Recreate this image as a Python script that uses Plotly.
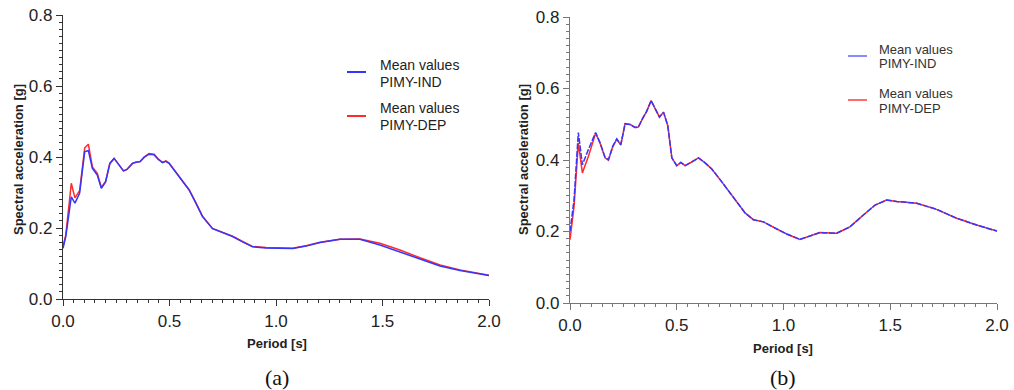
import plotly.graph_objects as go

# ---- (a) mean spectra ----
period_a = [0.0, 0.013, 0.039, 0.056, 0.078, 0.102, 0.119, 0.138, 0.161, 0.18, 0.2, 0.22,
            0.24, 0.263, 0.284, 0.3, 0.326, 0.342, 0.362, 0.381, 0.404, 0.428, 0.448, 0.467,
            0.483, 0.498, 0.522, 0.561, 0.592, 0.624, 0.655, 0.702, 0.749, 0.796, 0.843, 0.89,
            0.953, 1.016, 1.078, 1.141, 1.207, 1.30, 1.394, 1.488, 1.582, 1.676, 1.77, 1.864,
            1.958, 2.0]
ind_a = [0.143, 0.176, 0.288, 0.270, 0.298, 0.415, 0.418, 0.368, 0.349, 0.312, 0.330, 0.382,
         0.396, 0.377, 0.361, 0.365, 0.382, 0.385, 0.387, 0.399, 0.408, 0.406, 0.393, 0.384,
         0.388, 0.382, 0.363, 0.335, 0.307, 0.270, 0.232, 0.198, 0.188, 0.176, 0.161, 0.147,
         0.144, 0.144, 0.142, 0.149, 0.159, 0.168, 0.168, 0.152, 0.133, 0.112, 0.093, 0.080,
         0.070, 0.066]
dep_a = [0.148, 0.180, 0.326, 0.285, 0.305, 0.426, 0.436, 0.372, 0.354, 0.314, 0.331, 0.382,
         0.396, 0.377, 0.361, 0.365, 0.382, 0.385, 0.387, 0.400, 0.410, 0.408, 0.394, 0.385,
         0.389, 0.383, 0.364, 0.336, 0.308, 0.271, 0.233, 0.199, 0.189, 0.177, 0.162, 0.148,
         0.145, 0.145, 0.143, 0.150, 0.160, 0.168, 0.169, 0.157, 0.138, 0.116, 0.096, 0.082,
         0.071, 0.067]

# ---- (b) mean spectra ----
period_b = [0.0, 0.019, 0.039, 0.058, 0.086, 0.12, 0.141, 0.164, 0.18, 0.2, 0.219, 0.238,
            0.258, 0.281, 0.305, 0.32, 0.341, 0.359, 0.38, 0.398, 0.419, 0.438, 0.458, 0.477,
            0.5, 0.519, 0.539, 0.563, 0.602, 0.633, 0.664, 0.703, 0.75, 0.781, 0.82, 0.859,
            0.906, 0.952, 1.015, 1.077, 1.124, 1.171, 1.249, 1.311, 1.374, 1.429, 1.483, 1.53,
            1.624, 1.717, 1.811, 1.905, 2.0]
ind_b = [0.200, 0.289, 0.477, 0.387, 0.429, 0.477, 0.448, 0.408, 0.401, 0.438, 0.459, 0.443,
         0.501, 0.499, 0.491, 0.492, 0.517, 0.536, 0.566, 0.545, 0.520, 0.534, 0.496, 0.406,
         0.384, 0.393, 0.384, 0.392, 0.406, 0.392, 0.375, 0.345, 0.308, 0.282, 0.252, 0.233,
         0.227, 0.212, 0.193, 0.178, 0.187, 0.197, 0.195, 0.213, 0.246, 0.274, 0.288, 0.284,
         0.279, 0.262, 0.237, 0.218, 0.201]
dep_b = [0.177, 0.270, 0.448, 0.364, 0.410, 0.475, 0.447, 0.406, 0.399, 0.437, 0.458, 0.442,
         0.502, 0.500, 0.491, 0.492, 0.517, 0.536, 0.566, 0.545, 0.520, 0.534, 0.496, 0.406,
         0.384, 0.393, 0.384, 0.392, 0.406, 0.392, 0.375, 0.345, 0.308, 0.282, 0.252, 0.233,
         0.227, 0.212, 0.193, 0.178, 0.187, 0.197, 0.195, 0.213, 0.246, 0.274, 0.288, 0.284,
         0.279, 0.262, 0.237, 0.218, 0.201]

legend_labels = [["Mean values", "PIMY-IND"], ["Mean values", "PIMY-DEP"]]
x_title = "Period [s]"
y_title = "Spectral acceleration [g]"
panel_tags = ["(a)", "(b)"]

BLUE = "#3535ff"
RED = "#ff2b2b"
SANS = "Liberation Sans, Arial, sans-serif"
SERIF = "Liberation Serif, Times New Roman, serif"
W, H = 1014, 390


def px(x):
    return x / W


def py(y):
    return 1 - y / H


fig = go.Figure()
fig.add_trace(go.Scatter(x=period_a, y=dep_a, mode="lines", line=dict(color=RED, width=1.5),
                         xaxis="x", yaxis="y", showlegend=False))
fig.add_trace(go.Scatter(x=period_a, y=ind_a, mode="lines", line=dict(color=BLUE, width=1.5),
                         xaxis="x", yaxis="y", showlegend=False))
fig.add_trace(go.Scatter(x=period_b, y=dep_b, mode="lines", line=dict(color=RED, width=1.5),
                         xaxis="x2", yaxis="y2", showlegend=False))
fig.add_trace(go.Scatter(x=period_b, y=ind_b, mode="lines",
                         line=dict(color=BLUE, width=1.5, dash="6px,1.5px"),
                         xaxis="x2", yaxis="y2", showlegend=False))


def xax(domain, color, anchor):
    return dict(domain=domain, range=[0, 2], tick0=0, dtick=0.5, tickformat=".1f",
                ticks="outside", ticklen=6, tickwidth=1, tickcolor=color,
                showline=True, linecolor=color, linewidth=1.2, showgrid=False,
                zeroline=False, anchor=anchor, automargin=False,
                tickfont=dict(family=SANS, size=17, color="#222"),
                minor=dict(dtick=0.05, ticks="outside", ticklen=3, tickcolor=color,
                           showgrid=False))


def yax(domain, color, anchor):
    return dict(domain=domain, range=[0, 0.8], tick0=0, dtick=0.2, tickformat=".1f",
                ticks="outside", ticklen=6, tickwidth=1, tickcolor=color,
                showline=True, linecolor=color, linewidth=1.2, showgrid=False,
                zeroline=False, anchor=anchor, automargin=False,
                tickfont=dict(family=SANS, size=17, color="#222"),
                minor=dict(dtick=0.02, ticks="outside", ticklen=3, tickcolor=color,
                           showgrid=False))


fig.update_layout(
    width=W, height=H, autosize=False,
    margin=dict(l=0, r=0, t=0, b=0),
    paper_bgcolor="white", plot_bgcolor="white",
    xaxis=xax([px(63), px(489)], "#333", "y"),
    yaxis=yax([py(299), py(15)], "#333", "x"),
    xaxis2=xax([px(570), px(997)], "#777", "y2"),
    yaxis2=yax([py(303), py(17)], "#777", "x2"),
)

annotations = []
shapes = []

# axis titles and panel tags
for xc, yc_x, ytx, tag in [(277, 343, 18, panel_tags[0]), (783, 348, 523, panel_tags[1])]:
    annotations.append(dict(text="<b>%s</b>" % x_title, x=px(xc), y=py(yc_x), xref="paper",
                            yref="paper", showarrow=False, xanchor="center", yanchor="middle",
                            font=dict(family=SANS, size=13, color="#222")))
    annotations.append(dict(text="<b>%s</b>" % y_title, x=px(ytx), y=py(160), xref="paper",
                            yref="paper", showarrow=False, textangle=-90, xanchor="center",
                            yanchor="middle", font=dict(family=SANS, size=13, color="#222")))
    annotations.append(dict(text=tag, x=px(xc), y=py(377), xref="paper", yref="paper",
                            showarrow=False, xanchor="center", yanchor="middle",
                            font=dict(family=SERIF, size=22, color="#111")))

# legend keys
legend_specs = [
    # (line x0, x1, text x, [line y], [text rows y], colours, font size)
    (347, 366, 378, [72, 116], [[65, 82], [108, 125]], [BLUE, RED], 14, "#222"),
    (848, 867, 877, [56, 100], [[50, 64], [93, 108]], ["#8a8aff", "#ff6a6a"], 13, "#333"),
]
for x0, x1, tx, line_ys, rows, cols, fsize, tcol in legend_specs:
    for ly, ry, col, labels in zip(line_ys, rows, cols, legend_labels):
        shapes.append(dict(type="line", xref="paper", yref="paper", x0=px(x0), x1=px(x1),
                           y0=py(ly), y1=py(ly), line=dict(color=col, width=2)))
        for ty, lab in zip(ry, labels):
            annotations.append(dict(text=lab, x=px(tx), y=py(ty), xref="paper", yref="paper",
                                    showarrow=False, xanchor="left", yanchor="middle",
                                    font=dict(family=SANS, size=fsize, color=tcol)))

fig.update_layout(annotations=annotations, shapes=shapes)
fig.write_html("out.html")
